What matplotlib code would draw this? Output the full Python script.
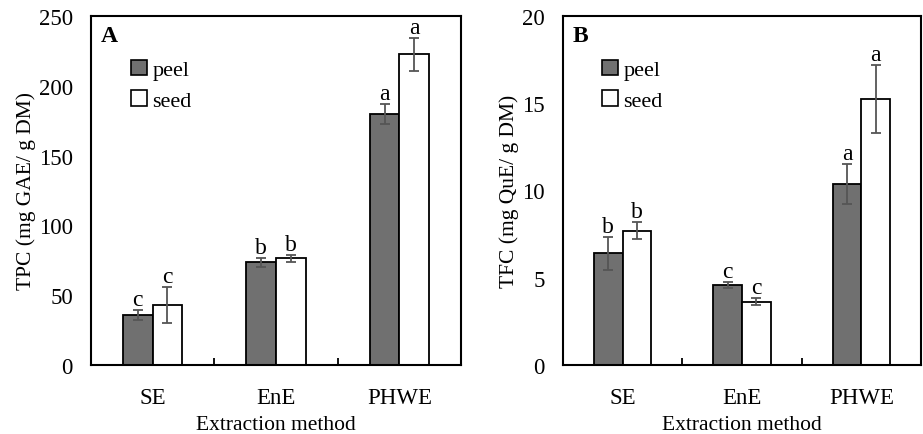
import numpy as np
import matplotlib
matplotlib.use('Agg')
import matplotlib.pyplot as plt
from matplotlib.patches import Patch

plt.rcParams['font.family'] = ['Liberation Serif', 'DejaVu Serif']

methods = ['SE', 'EnE', 'PHWE']

# panel A: TPC
tpc_peel = [35.8, 73.6, 179.7]
tpc_peel_err = [3.7, 3.3, 7.3]
tpc_seed = [43.0, 76.5, 222.5]
tpc_seed_err = [12.6, 2.6, 12.0]
tpc_peel_lab = ['c', 'b', 'a']
tpc_seed_lab = ['c', 'b', 'a']

# panel B: TFC
tfc_peel = [6.39, 4.58, 10.36]
tfc_peel_err = [0.94, 0.15, 1.15]
tfc_seed = [7.69, 3.63, 15.27]
tfc_seed_err = [0.48, 0.19, 1.95]
tfc_peel_lab = ['b', 'c', 'a']
tfc_seed_lab = ['b', 'c', 'a']

W, H = 923, 435
fig = plt.figure(figsize=(W/100, H/100), dpi=100)
axA = fig.add_axes([91/W, 69/H, 370/W, 349/H])
axB = fig.add_axes([563/W, 69/H, 358/W, 349/H])

peel_col = '#707070'
err_col = '#555555'
bw = 0.24


def draw(ax, peel, peel_err, seed, seed_err, plab, slab, ymax, ystep, ylabel, tag):
    x = np.arange(len(methods))
    ax.bar(x - 0.12, peel, bw, color=peel_col, edgecolor='black', linewidth=1.3, zorder=2)
    ax.bar(x + 0.12, seed, bw, color='white', edgecolor='black', linewidth=1.3, zorder=2)
    ax.errorbar(x - 0.12, peel, yerr=peel_err, fmt='none', ecolor=err_col,
                elinewidth=1.3, capsize=3.5, capthick=1.3, zorder=3)
    ax.errorbar(x + 0.12, seed, yerr=seed_err, fmt='none', ecolor=err_col,
                elinewidth=1.3, capsize=3.5, capthick=1.3, zorder=3)
    for xi, v, e, t in zip(x - 0.12, peel, peel_err, plab):
        ax.annotate(t, (xi, v + e), xytext=(0, 0), textcoords='offset points',
                    ha='center', va='bottom', fontsize=17)
    for xi, v, e, t in zip(x + 0.12, seed, seed_err, slab):
        ax.annotate(t, (xi, v + e), xytext=(0, 0), textcoords='offset points',
                    ha='center', va='bottom', fontsize=17)
    ax.set_xlim(-0.5, 2.5)
    ax.set_ylim(0, ymax)
    ax.set_yticks(np.arange(0, ymax + 0.1, ystep))
    ax.set_xticks(x)
    ax.set_xticklabels(methods)
    ax.set_xticks([0.5, 1.5], minor=True)
    ax.tick_params(axis='x', which='major', length=0, labelsize=16.5, pad=16)
    ax.tick_params(axis='x', which='minor', direction='in', length=5, width=1.3)
    ax.tick_params(axis='y', length=0, labelsize=16.5, pad=13)
    for s in ax.spines.values():
        s.set_linewidth(1.5)
    ax.set_ylabel(ylabel, fontsize=15.5, labelpad=2)
    ax.set_xlabel('Extraction method', fontsize=15.5, labelpad=5)
    ax.text(0.026, 0.945, tag, transform=ax.transAxes, fontsize=17,
            fontweight='bold', ha='left', va='center')
    handles = [Patch(facecolor=peel_col, edgecolor='black', linewidth=1.2),
               Patch(facecolor='white', edgecolor='black', linewidth=1.2)]
    ax.legend(handles, ['peel', 'seed'], loc='upper left', bbox_to_anchor=(0.085, 0.9),
              frameon=False, fontsize=16, handlelength=0.7, handleheight=0.7,
              handletextpad=0.25, labelspacing=0.45, borderaxespad=0)


draw(axA, tpc_peel, tpc_peel_err, tpc_seed, tpc_seed_err, tpc_peel_lab, tpc_seed_lab,
     250, 50, 'TPC (mg GAE/ g DM)', 'A')
draw(axB, tfc_peel, tfc_peel_err, tfc_seed, tfc_seed_err, tfc_peel_lab, tfc_seed_lab,
     20, 5, 'TFC (mg QuE/ g DM)', 'B')

fig.savefig('out.png', dpi=100)
